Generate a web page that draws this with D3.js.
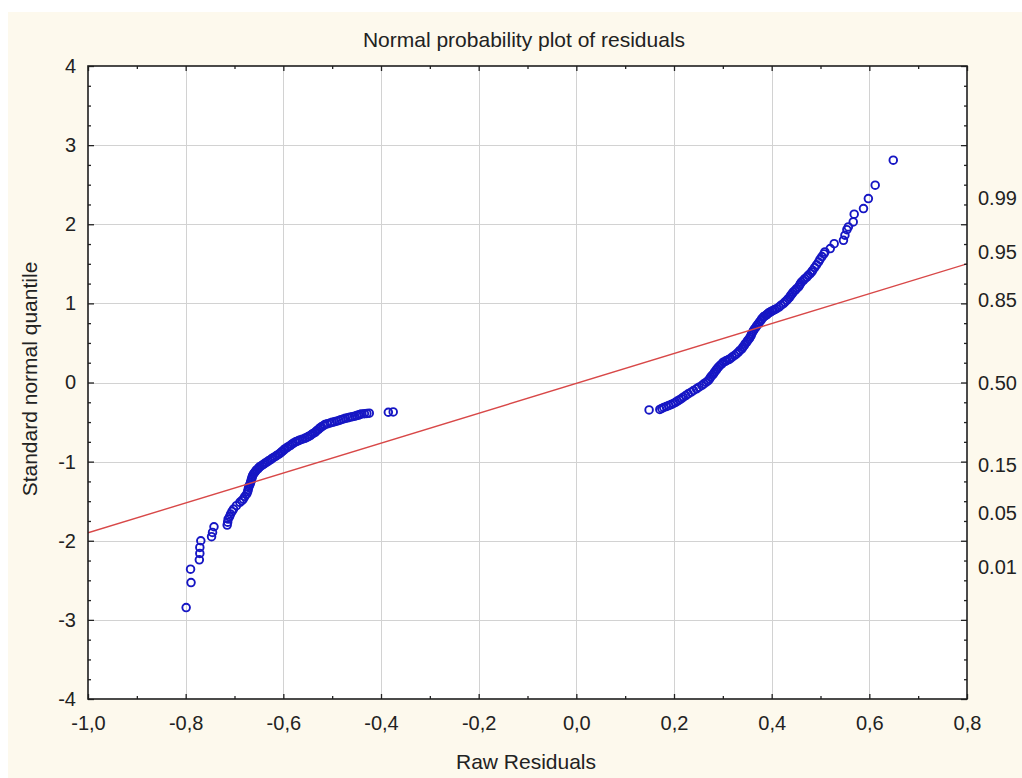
<!DOCTYPE html>
<html>
<head>
<meta charset="utf-8">
<script src="https://cdn.jsdelivr.net/npm/d3@7"></script>
<style>
  html, body { margin: 0; padding: 0; background: #ffffff; }
  svg { display: block; }
  text { font-family: "Liberation Sans", Arial, sans-serif; fill: #222; }
</style>
</head>
<body>
<svg id="chart" width="1022" height="778"></svg>
<script>
// Axis ticks and labels
const xTicks = [-1.0, -0.8, -0.6, -0.4, -0.2, 0.0, 0.2, 0.4, 0.6, 0.8];
const xTickLabels = ["-1,0", "-0,8", "-0,6", "-0,4", "-0,2", "0,0", "0,2", "0,4", "0,6", "0,8"];
const yTicks = [-4, -3, -2, -1, 0, 1, 2, 3, 4];
const yTickLabels = ["-4", "-3", "-2", "-1", "0", "1", "2", "3", "4"];
const probLabels = ["0.99", "0.95", "0.85", "0.50", "0.15", "0.05", "0.01"];
const probValues = [0.99, 0.95, 0.85, 0.50, 0.15, 0.05, 0.01];

// Residuals below zero and their expected normal values
const negResiduals = [
  -0.799, -0.789, -0.790, -0.772, -0.771, -0.771, -0.769, -0.747, -0.745, -0.742, -0.715,
  -0.714, -0.713, -0.710, -0.708, -0.705, -0.702, -0.696, -0.689, -0.685, -0.682,
  -0.679, -0.675, -0.673, -0.672, -0.671, -0.670, -0.668, -0.667, -0.666, -0.665,
  -0.664, -0.663, -0.661, -0.659, -0.657, -0.655, -0.652, -0.650, -0.648, -0.644,
  -0.641, -0.638, -0.634, -0.631, -0.627, -0.624, -0.621, -0.617, -0.614, -0.610,
  -0.607, -0.604, -0.602, -0.599, -0.597, -0.593, -0.590, -0.586, -0.583, -0.580,
  -0.576, -0.573, -0.569, -0.566, -0.561, -0.556, -0.552, -0.549, -0.545, -0.542,
  -0.539, -0.535, -0.532, -0.528, -0.525, -0.522, -0.518, -0.515, -0.510, -0.504,
  -0.500, -0.495, -0.491, -0.486, -0.482, -0.477, -0.473, -0.468, -0.464, -0.459,
  -0.454, -0.450, -0.446, -0.443, -0.440, -0.434, -0.429, -0.424, -0.385, -0.375
];
const negScores = [
  -2.844, -2.528, -2.359, -2.241, -2.160, -2.084, -2.000, -1.949, -1.895, -1.823, -1.802,
  -1.765, -1.726, -1.694, -1.662, -1.630, -1.599, -1.557, -1.515, -1.494, -1.473,
  -1.441, -1.409, -1.378, -1.352, -1.327, -1.305, -1.283, -1.262, -1.241, -1.219,
  -1.200, -1.178, -1.156, -1.139, -1.122, -1.105, -1.091, -1.077, -1.063, -1.049,
  -1.035, -1.021, -1.007, -0.993, -0.979, -0.965, -0.951, -0.937, -0.923, -0.909,
  -0.895, -0.881, -0.868, -0.854, -0.840, -0.826, -0.811, -0.797, -0.783, -0.769,
  -0.755, -0.745, -0.736, -0.726, -0.716, -0.705, -0.694, -0.683, -0.671, -0.657,
  -0.643, -0.629, -0.611, -0.592, -0.574, -0.560, -0.546, -0.532, -0.522, -0.511,
  -0.503, -0.496, -0.489, -0.479, -0.470, -0.460, -0.453, -0.446, -0.439, -0.432,
  -0.425, -0.418, -0.411, -0.404, -0.397, -0.394, -0.391, -0.388, -0.376, -0.372
];

// Residuals above zero and their expected normal values
const posResiduals = [
  0.149, 0.171, 0.175, 0.179, 0.184, 0.189, 0.194, 0.199, 0.203, 0.207, 0.211,
  0.215, 0.219, 0.224, 0.229, 0.235, 0.240, 0.246, 0.251, 0.257, 0.261,
  0.266, 0.270, 0.273, 0.275, 0.278, 0.281, 0.283, 0.286, 0.288, 0.291,
  0.294, 0.298, 0.301, 0.305, 0.308, 0.312, 0.315, 0.319, 0.324, 0.328,
  0.332, 0.335, 0.339, 0.341, 0.344, 0.346, 0.349, 0.351, 0.354, 0.356,
  0.358, 0.359, 0.361, 0.363, 0.365, 0.368, 0.370, 0.373, 0.375, 0.378,
  0.380, 0.383, 0.385, 0.388, 0.390, 0.392, 0.394, 0.397, 0.400, 0.403,
  0.406, 0.410, 0.415, 0.419, 0.424, 0.427, 0.431, 0.434, 0.437, 0.439,
  0.442, 0.444, 0.448, 0.451, 0.455, 0.457, 0.459, 0.461, 0.465, 0.468,
  0.472, 0.475, 0.479, 0.482, 0.484, 0.488, 0.492, 0.496, 0.499, 0.503,
  0.507, 0.509, 0.520, 0.528, 0.547, 0.550, 0.554, 0.557, 0.567, 0.569,
  0.588, 0.598, 0.612, 0.649
];
const posScores = [
  -0.346, -0.340, -0.328, -0.316, -0.304, -0.292, -0.279, -0.265, -0.250, -0.235, -0.220,
  -0.204, -0.186, -0.165, -0.143, -0.122, -0.101, -0.080, -0.059, -0.038, -0.017,
  0.004, 0.025, 0.046, 0.068, 0.089, 0.110, 0.131, 0.152, 0.173, 0.194,
  0.215, 0.236, 0.257, 0.268, 0.279, 0.290, 0.300, 0.321, 0.342, 0.363,
  0.384, 0.405, 0.426, 0.447, 0.468, 0.490, 0.511, 0.532, 0.553, 0.574,
  0.595, 0.616, 0.637, 0.658, 0.679, 0.700, 0.722, 0.743, 0.764, 0.785,
  0.806, 0.827, 0.838, 0.848, 0.859, 0.869, 0.880, 0.890, 0.901, 0.911,
  0.922, 0.932, 0.953, 0.975, 0.996, 1.017, 1.038, 1.059, 1.080, 1.101,
  1.122, 1.143, 1.164, 1.186, 1.207, 1.228, 1.249, 1.270, 1.291, 1.312,
  1.333, 1.354, 1.376, 1.397, 1.418, 1.452, 1.487, 1.523, 1.557, 1.592,
  1.625, 1.650, 1.692, 1.755, 1.797, 1.861, 1.932, 1.966, 2.029, 2.127,
  2.198, 2.325, 2.494, 2.810
];

// Reference line of the normal distribution
const fitX = [-1.0, 0.8];
const fitY = [-1.90, 1.50];

// Inverse of the standard normal distribution function (Acklam)
function probit(p) {
  const a = [-3.969683028665376e+01, 2.209460984245205e+02, -2.759285104469687e+02, 1.383577518672690e+02, -3.066479806614716e+01, 2.506628277459239e+00];
  const b = [-5.447609879822406e+01, 1.615858368580409e+02, -1.556989798598866e+02, 6.680131188771194e+01, -1.328068155288572e+01];
  const c = [-7.784894002430293e-03, -3.223964580411365e-01, -2.400758277161838e+00, -2.549732539343734e+00, 4.374664141464968e+00, 2.938163982698783e+00];
  const d = [7.784695709041462e-03, 3.224671290700398e-01, 2.445134137142996e+00, 3.754408661907416e+00];
  const lo = 0.02425, hi = 1 - lo;
  let q, r;
  if (p < lo) {
    q = Math.sqrt(-2 * Math.log(p));
    return (((((c[0]*q+c[1])*q+c[2])*q+c[3])*q+c[4])*q+c[5]) / ((((d[0]*q+d[1])*q+d[2])*q+d[3])*q+1);
  }
  if (p <= hi) {
    q = p - 0.5; r = q * q;
    return (((((a[0]*r+a[1])*r+a[2])*r+a[3])*r+a[4])*r+a[5])*q / (((((b[0]*r+b[1])*r+b[2])*r+b[3])*r+b[4])*r+1);
  }
  q = Math.sqrt(-2 * Math.log(1 - p));
  return -(((((c[0]*q+c[1])*q+c[2])*q+c[3])*q+c[4])*q+c[5]) / ((((d[0]*q+d[1])*q+d[2])*q+d[3])*q+1);
}

const W = 1022, H = 778;
const plot = { left: 88, top: 66, right: 967, bottom: 699 };

const svg = d3.select("#chart");

// Panel background
svg.append("rect").attr("x", 0).attr("y", 0).attr("width", W).attr("height", H).attr("fill", "#ffffff");
svg.append("rect").attr("x", 8).attr("y", 12).attr("width", W - 8).attr("height", H - 12).attr("fill", "#fdf9ed");

const x = d3.scaleLinear().domain([-1.0, 0.8]).range([plot.left, plot.right]);
const y = d3.scaleLinear().domain([-4, 4]).range([plot.bottom, plot.top]);

svg.append("rect")
  .attr("x", plot.left).attr("y", plot.top)
  .attr("width", plot.right - plot.left).attr("height", plot.bottom - plot.top)
  .attr("fill", "#ffffff");

// Grid
const grid = svg.append("g").attr("stroke", "#d2d2d2").attr("stroke-width", 1).attr("shape-rendering", "crispEdges");
grid.selectAll("line.v").data(xTicks.slice(1, -1)).join("line")
  .attr("x1", d => Math.round(x(d)) + 0.5).attr("x2", d => Math.round(x(d)) + 0.5)
  .attr("y1", plot.top).attr("y2", plot.bottom);
grid.selectAll("line.h").data(yTicks.slice(1, -1)).join("line")
  .attr("y1", d => Math.round(y(d)) + 0.5).attr("y2", d => Math.round(y(d)) + 0.5)
  .attr("x1", plot.left).attr("x2", plot.right);

// Points
svg.append("clipPath").attr("id", "plotClip").append("rect")
  .attr("x", plot.left).attr("y", plot.top)
  .attr("width", plot.right - plot.left).attr("height", plot.bottom - plot.top);

const pts = [];
negResiduals.forEach((r, i) => pts.push([r, negScores[i]]));
posResiduals.forEach((r, i) => pts.push([r, posScores[i]]));

svg.append("g").attr("clip-path", "url(#plotClip)")
  .selectAll("circle").data(pts).join("circle")
  .attr("cx", d => x(d[0])).attr("cy", d => y(d[1]))
  .attr("r", 3.8)
  .attr("fill", "none")
  .attr("stroke", "#1616c4")
  .attr("stroke-width", 1.9);

// Reference line
svg.append("g").attr("clip-path", "url(#plotClip)")
  .append("line")
  .attr("x1", x(fitX[0])).attr("y1", y(fitY[0]))
  .attr("x2", x(fitX[1])).attr("y2", y(fitY[1]))
  .attr("stroke", "#d84848").attr("stroke-width", 1.4);

// Axes
function styleAxis(g) {
  g.select(".domain").remove();
  g.selectAll(".tick line").attr("stroke", "#222").attr("stroke-width", 1.3);
  g.selectAll(".tick text").attr("font-size", 20).attr("fill", "#222")
    .attr("font-family", "\"Liberation Sans\", Arial, sans-serif");
}

const xMinor = d3.range(-10, 9).map(v => v / 10).filter(v => Math.abs(Math.round(v * 5) - v * 5) > 1e-6);
const yMinor = d3.range(-16, 17).map(v => v / 4).filter(v => Math.abs(v - Math.round(v)) > 1e-6);

// bottom
svg.append("g").attr("transform", `translate(0,${plot.bottom})`)
  .call(d3.axisBottom(x).tickValues(xTicks).tickFormat((d, i) => xTickLabels[i]).tickSize(-5).tickPadding(17))
  .call(styleAxis);
svg.append("g").attr("transform", `translate(0,${plot.bottom})`)
  .call(d3.axisBottom(x).tickValues(xMinor).tickFormat("").tickSize(-3))
  .call(styleAxis);
// top
svg.append("g").attr("transform", `translate(0,${plot.top})`)
  .call(d3.axisTop(x).tickValues(xTicks).tickFormat("").tickSize(-5))
  .call(styleAxis);
svg.append("g").attr("transform", `translate(0,${plot.top})`)
  .call(d3.axisTop(x).tickValues(xMinor).tickFormat("").tickSize(-3))
  .call(styleAxis);
// left
svg.append("g").attr("transform", `translate(${plot.left},0)`)
  .call(d3.axisLeft(y).tickValues(yTicks).tickFormat((d, i) => yTickLabels[i]).tickSize(-6).tickPadding(12))
  .call(styleAxis);
svg.append("g").attr("transform", `translate(${plot.left},0)`)
  .call(d3.axisLeft(y).tickValues(yMinor).tickFormat("").tickSize(-3))
  .call(styleAxis);
// right
svg.append("g").attr("transform", `translate(${plot.right},0)`)
  .call(d3.axisRight(y).tickValues(yTicks).tickFormat("").tickSize(-6))
  .call(styleAxis);
svg.append("g").attr("transform", `translate(${plot.right},0)`)
  .call(d3.axisRight(y).tickValues(yMinor).tickFormat("").tickSize(-3))
  .call(styleAxis);

// right probability labels
const probAxis = svg.append("g").attr("transform", `translate(${plot.right},0)`);
probAxis.selectAll("text").data(probValues).join("text")
  .attr("x", 11).attr("y", d => y(probit(d)))
  .attr("dy", "0.35em")
  .attr("font-size", 20)
  .text((d, i) => probLabels[i]);

// Frame
svg.append("rect")
  .attr("x", plot.left).attr("y", plot.top)
  .attr("width", plot.right - plot.left).attr("height", plot.bottom - plot.top)
  .attr("fill", "none").attr("stroke", "#1e1e1e").attr("stroke-width", 1.6);

// Titles
svg.append("text").attr("x", 524).attr("y", 47).attr("text-anchor", "middle")
  .attr("font-size", 21).text("Normal probability plot of residuals");
svg.append("text").attr("x", 526).attr("y", 769).attr("text-anchor", "middle")
  .attr("font-size", 21).text("Raw Residuals");
svg.append("text").attr("transform", "translate(37,379) rotate(-90)").attr("text-anchor", "middle")
  .attr("font-size", 21).text("Standard normal quantile");
</script>
</body>
</html>
